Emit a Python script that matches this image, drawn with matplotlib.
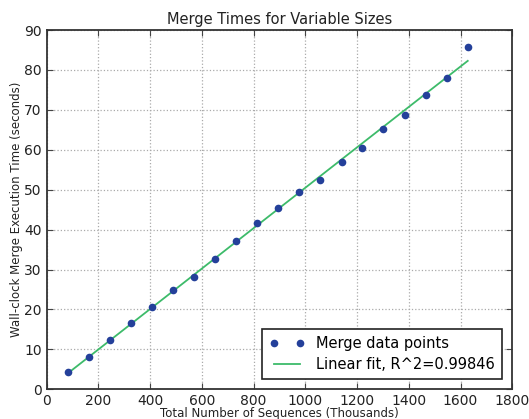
import matplotlib
matplotlib.use("Agg")
import matplotlib.pyplot as plt
import numpy as np

# Total number of sequences (thousands) and merge time (seconds)
sizes = [81, 163, 244, 326, 407, 489, 570, 651, 733, 814,
         896, 977, 1058, 1140, 1221, 1302, 1384, 1465, 1547, 1628]
times = [4.3, 8.2, 12.4, 16.6, 20.7, 24.9, 28.1, 32.7, 37.2, 41.6,
         45.5, 49.3, 52.5, 57.0, 60.5, 65.2, 68.8, 73.6, 77.9, 85.7]
r2_label = "Linear fit, R^2=0.99846"

x = np.array(sizes, dtype=float)
y = np.array(times, dtype=float)
slope, icpt = np.polyfit(x, y, 1)

fig = plt.figure(figsize=(5.29, 4.19), dpi=100)
ax = fig.add_axes([0.0883, 0.0709, 0.88, 0.8575])

ax.plot(x, y, "o", color="#24409a", markersize=5.5, markeredgewidth=0,
        label="Merge data points", zorder=3)
ax.plot(x, slope * x + icpt, "-", color="#3dbb6a", linewidth=1.3,
        label=r2_label, zorder=2)

ax.set_xlim(0, 1800)
ax.set_ylim(0, 90)
ax.set_xticks(np.arange(0, 1801, 200))
ax.set_yticks(np.arange(0, 91, 10))
ax.tick_params(direction="in", top=True, right=True, labelsize=10,
               length=4, color="#444444", labelcolor="#222222")
for s in ax.spines.values():
    s.set_linewidth(1.3)
    s.set_color("#333333")
ax.grid(True, linestyle=":", color="#aaaaaa", linewidth=0.9)
ax.set_axisbelow(True)

ax.set_title("Merge Times for Variable Sizes", fontsize=10.5, pad=4, color="#222222")
ax.set_xlabel("Total Number of Sequences (Thousands)", fontsize=8.5, labelpad=-1,
              color="#222222")
ax.set_ylabel("Wall-clock Merge Execution Time (seconds)", fontsize=8.5, labelpad=1,
              color="#222222")

leg = ax.legend(loc="lower right", numpoints=2, fontsize=10.5, fancybox=False,
                framealpha=1, borderaxespad=0.7, handlelength=2.4,
                borderpad=0.5, labelspacing=0.4)
leg.get_frame().set_edgecolor("#222222")
leg.get_frame().set_linewidth(1.2)

fig.savefig("out.png", dpi=100)
